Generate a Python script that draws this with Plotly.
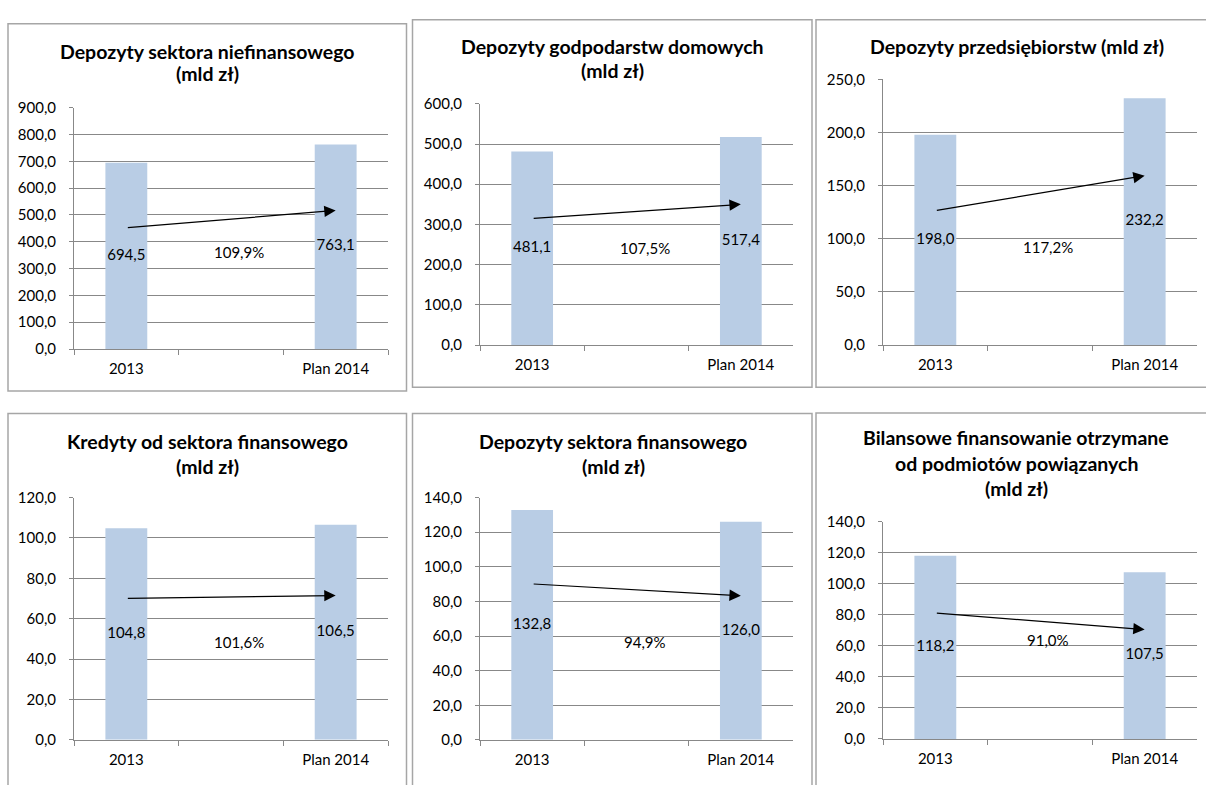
import plotly.graph_objects as go

# ---------------- data ----------------
categories = ["2013", " ", "Plan 2014"]
titles = [
    ["Depozyty sektora niefinansowego", "(mld zł)"],
    ["Depozyty godpodarstw domowych", "(mld zł)"],
    ["Depozyty przedsiębiorstw (mld zł)"],
    ["Kredyty od sektora finansowego", "(mld zł)"],
    ["Depozyty sektora finansowego", "(mld zł)"],
    ["Bilansowe finansowanie otrzymane", "od podmiotów powiązanych", "(mld zł)"],
]
values_2013 = [694.5, 481.1, 198.0, 104.8, 132.8, 118.2]
values_plan2014 = [763.1, 517.4, 232.2, 106.5, 126.0, 107.5]
change_labels = ["109,9%", "107,5%", "117,2%", "101,6%", "94,9%", "91,0%"]
y_max = [900, 600, 250, 120, 140, 140]
y_step = [100, 100, 50, 20, 20, 20]
# arrow (trend) start / end values, in axis units
arrow_start = [452, 315, 126.6, 70.1, 90.1, 81.2]
arrow_end = [517, 350, 159.4, 71.5, 83.2, 70.6]

# ---------------- layout geometry (pixels) ----------------
W, H = 1206, 785
# plot areas: x0, x1, ytop, ybottom
plot_px = [
    (74, 388, 100, 347),
    (480, 793, 96, 343),
    (883, 1197, 71, 343),
    (74, 388, 499, 747),
    (480, 793, 499, 747),
    (883, 1197, 524, 746),
]
# panel boxes: x0, y0, x1, y1
box_px = [
    (8, 14, 406.5, 390),
    (412.5, 10, 812, 386),
    (816, 10, 1212, 386),
    (8, 413, 406.5, 800),
    (412.5, 413, 812, 800),
    (816, 412.5, 1212, 800),
]
title_x = [207, 612, 1017, 207, 613, 1016]
title_y = [[42, 65], [37, 62], [37], [442, 467], [442, 467], [438, 464, 490]]
pct_y = [248, 244, 243, 647, 647, 645]

BAR = "#B9CDE5"
GRID = "#888888"
BORDER = "#A6A6A6"
FONT = "Lato"

def px_x(x):
    return x / W

def px_y(y):
    return 1 - y / H

def fmt(v):
    return f"{v:.1f}".replace(".", ",")

fig = go.Figure()
annotations = []
shapes = []

for i in range(6):
    n = "" if i == 0 else str(i + 1)
    xa, ya = "x" + n, "y" + n
    x0, x1, yt, yb = plot_px[i]

    fig.add_trace(go.Bar(
        x=categories,
        y=[values_2013[i], None, values_plan2014[i]],
        marker=dict(color=BAR, line=dict(width=0)),
        width=0.4,
        xaxis=xa, yaxis=ya,
        hoverinfo="skip",
        showlegend=False,
    ))
    fig.add_trace(go.Scatter(
        x=[categories[0], categories[2]],
        y=[values_2013[i] / 2, values_plan2014[i] / 2],
        mode="text",
        text=[fmt(values_2013[i]), fmt(values_plan2014[i])],
        textfont=dict(family=FONT, size=15, color="#000000"),
        textposition="middle center",
        xaxis=xa, yaxis=ya,
        hoverinfo="skip",
        showlegend=False,
        cliponaxis=False,
    ))

    fig.layout["xaxis" + n] = dict(
        domain=[px_x(x0), px_x(x1)],
        anchor=ya,
        type="category",
        categoryorder="array",
        categoryarray=categories,
        range=[-0.5, 2.5],
        showgrid=False,
        showline=True, linecolor=GRID, linewidth=1,
        ticks="outside", tickson="boundaries", ticklen=5, tickcolor=GRID,
        tickfont=dict(family=FONT, size=15, color="#000000"),
        ticklabelstandoff=6,
        fixedrange=True,
    )
    fig.layout["yaxis" + n] = dict(
        domain=[px_y(yb), px_y(yt)],
        anchor=xa,
        range=[0, y_max[i]],
        dtick=y_step[i],
        tick0=0,
        tickformat=".1f",
        showgrid=True, gridcolor=GRID, gridwidth=1,
        zeroline=False,
        showline=True, linecolor=GRID, linewidth=1,
        ticks="outside", ticklen=4, tickcolor=GRID,
        tickfont=dict(family=FONT, size=15, color="#000000"),
        ticklabelstandoff=10,
        fixedrange=True,
    )

    # trend arrow
    annotations.append(dict(
        xref=xa, yref=ya, axref=xa, ayref=ya,
        x=2, y=arrow_end[i], ax=0, ay=arrow_start[i],
        text="", showarrow=True,
        arrowhead=2, arrowsize=1.9, arrowwidth=1.2, arrowcolor="#000000",
    ))
    # change label
    annotations.append(dict(
        xref=xa, yref="paper",
        x=1, y=px_y(pct_y[i]), xshift=8,
        text=change_labels[i], showarrow=False,
        font=dict(family=FONT, size=15, color="#000000"),
        xanchor="center", yanchor="middle",
    ))
    # title lines
    for line, ty in zip(titles[i], title_y[i]):
        annotations.append(dict(
            xref="paper", yref="paper",
            x=px_x(title_x[i]), y=px_y(ty),
            text="<b>" + line + "</b>", showarrow=False,
            font=dict(family=FONT, size=19.5, color="#000000"),
            xanchor="center", yanchor="middle",
        ))
    # panel border
    bx0, by0, bx1, by1 = box_px[i]
    shapes.append(dict(
        type="rect", xref="paper", yref="paper",
        x0=px_x(bx0), x1=px_x(bx1), y0=px_y(by1), y1=px_y(by0),
        line=dict(color=BORDER, width=1.5), fillcolor="rgba(0,0,0,0)",
        layer="below",
    ))

fig.update_layout(
    width=W, height=H,
    margin=dict(l=0, r=0, t=0, b=0),
    paper_bgcolor="#FFFFFF",
    plot_bgcolor="rgba(0,0,0,0)",
    separators=", ",
    bargap=0.6,
    annotations=annotations,
    shapes=shapes,
    font=dict(family=FONT, color="#000000"),
)

fig.write_html(
    "out.html",
    config={"displayModeBar": False},
    post_script="document.body.style.margin='0';document.body.style.overflow='hidden';",
)
